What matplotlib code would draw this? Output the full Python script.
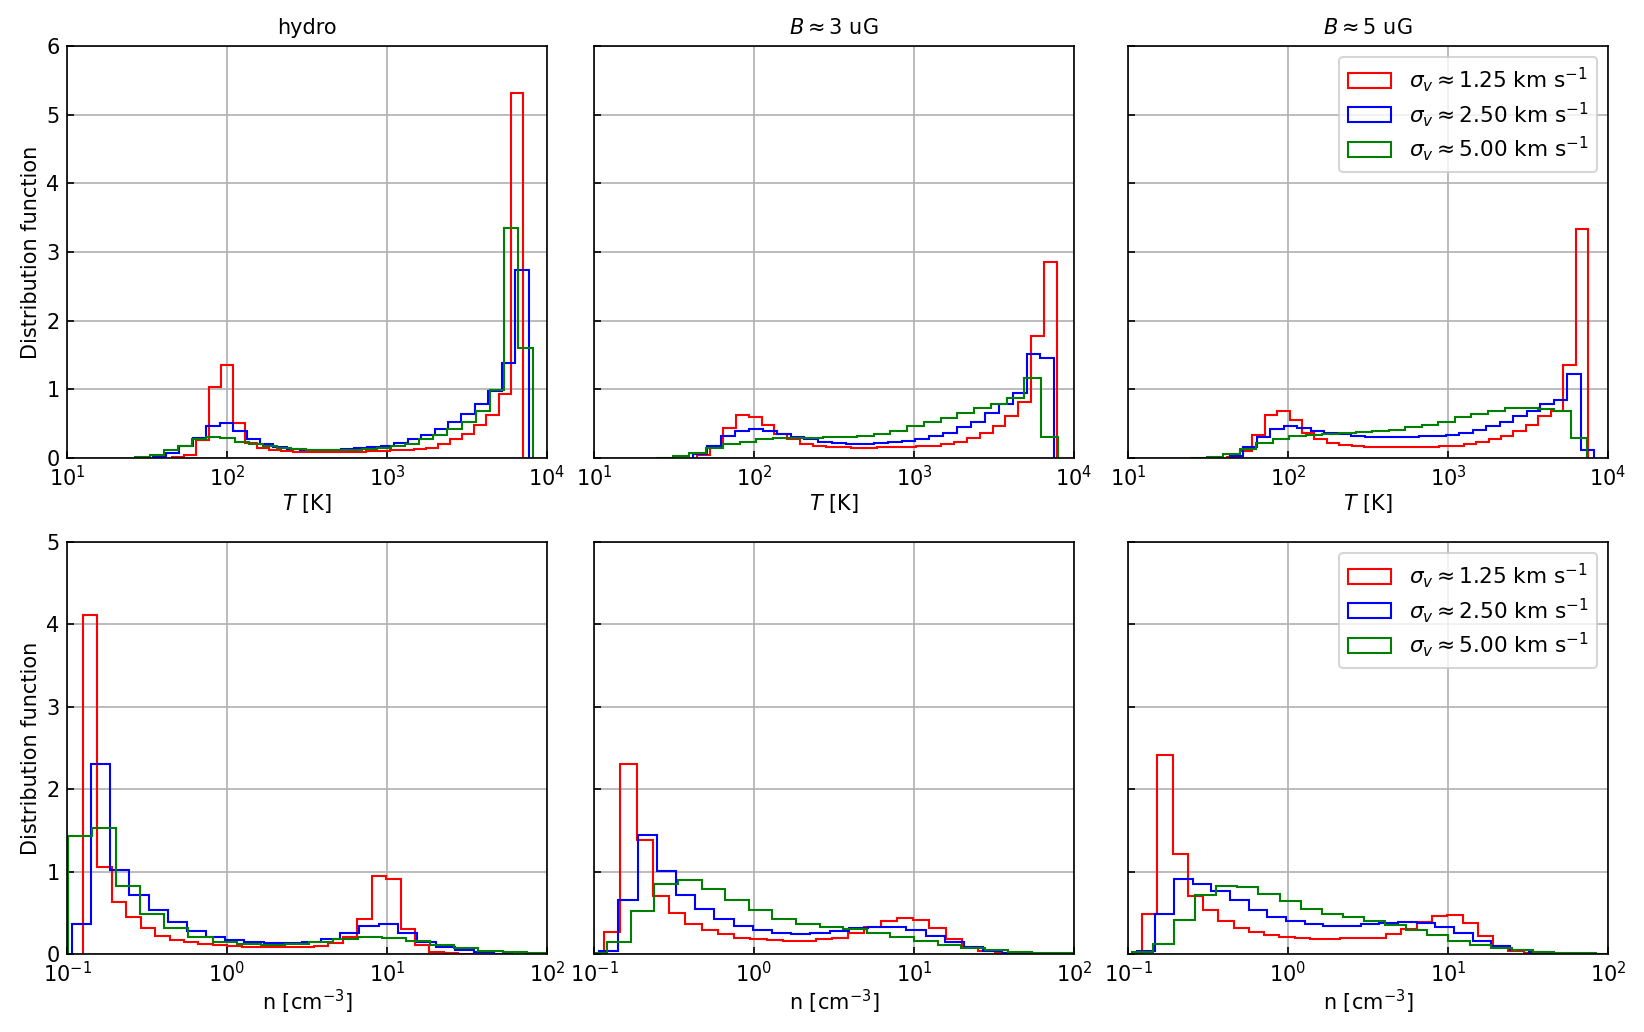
import numpy as np
import matplotlib
matplotlib.use('Agg')
import matplotlib.pyplot as plt

# Histogram heights; each series has its own log10 bin range
# temperature, hydro
T_HYDRO_RED_RANGE = (1.658, 3.848)
T_HYDRO_RED = [0.01, 0.05, 0.26, 1.03, 1.36, 0.51, 0.22, 0.15, 0.11, 0.095,
               0.09, 0.085, 0.085, 0.085, 0.09, 0.09, 0.1, 0.1, 0.11, 0.12,
               0.13, 0.15, 0.2, 0.27, 0.35, 0.48, 0.63, 0.93, 5.31]
T_HYDRO_BLUE_RANGE = (1.535, 3.885)
T_HYDRO_BLUE = [0.02, 0.08, 0.17, 0.29, 0.46, 0.51, 0.39, 0.28, 0.2, 0.155,
                0.13, 0.12, 0.12, 0.12, 0.125, 0.14, 0.16, 0.18, 0.22, 0.27,
                0.33, 0.42, 0.52, 0.64, 0.78, 0.97, 1.39, 2.74]
T_HYDRO_GREEN_RANGE = (1.427, 3.910)
T_HYDRO_GREEN = [0.015, 0.05, 0.11, 0.18, 0.27, 0.3, 0.29, 0.24, 0.21, 0.17,
                 0.14, 0.13, 0.12, 0.115, 0.115, 0.12, 0.125, 0.14, 0.17, 0.21,
                 0.27, 0.33, 0.42, 0.53, 0.69, 0.99, 3.35, 1.6]

# temperature, B ~ 3 uG
T_B3_RED_RANGE = (1.646, 3.892)
T_B3_RED = [0.05, 0.18, 0.44, 0.62, 0.6, 0.48, 0.35, 0.28, 0.21, 0.18,
            0.16, 0.155, 0.15, 0.15, 0.155, 0.16, 0.165, 0.17, 0.18, 0.2,
            0.24, 0.29, 0.37, 0.47, 0.61, 0.81, 1.78, 2.85]
T_B3_BLUE_RANGE = (1.621, 3.877)
T_B3_BLUE = [0.06, 0.18, 0.32, 0.4, 0.42, 0.39, 0.35, 0.3, 0.27, 0.24,
             0.22, 0.21, 0.21, 0.22, 0.23, 0.25, 0.28, 0.32, 0.37, 0.45,
             0.53, 0.65, 0.78, 0.94, 1.52, 1.45]
T_B3_GREEN_RANGE = (1.3875, 3.898)
T_B3_GREEN = [0.005, 0.035, 0.08, 0.15, 0.2, 0.24, 0.27, 0.29, 0.29, 0.29,
              0.3, 0.31, 0.32, 0.35, 0.4, 0.46, 0.52, 0.58, 0.66, 0.73,
              0.78, 0.87, 1.16, 0.31]

# temperature, B ~ 5 uG
T_B5_RED_RANGE = (1.621, 3.875)
T_B5_RED = [0.02, 0.1, 0.33, 0.63, 0.69, 0.55, 0.37, 0.28, 0.22, 0.19,
            0.17, 0.16, 0.155, 0.155, 0.155, 0.16, 0.165, 0.17, 0.18, 0.2,
            0.23, 0.27, 0.32, 0.4, 0.48, 0.61, 0.69, 1.35, 3.33]
T_B5_BLUE_RANGE = (1.6375, 3.915)
T_B5_BLUE = [0.035, 0.16, 0.31, 0.42, 0.47, 0.44, 0.4, 0.36, 0.35, 0.315,
             0.3, 0.3, 0.3, 0.305, 0.315, 0.32, 0.34, 0.37, 0.41, 0.46,
             0.52, 0.61, 0.69, 0.79, 0.84, 1.22, 0.12]
T_B5_GREEN_RANGE = (1.3875, 3.871)
T_B5_GREEN = [0.003, 0.02, 0.06, 0.13, 0.22, 0.28, 0.32, 0.34, 0.35, 0.36,
              0.38, 0.39, 0.41, 0.45, 0.48, 0.53, 0.59, 0.64, 0.69, 0.73,
              0.73, 0.71, 0.68, 0.29]

# density, hydro
N_HYDRO_RED_RANGE = (-0.9, 1.536)
N_HYDRO_RED = [4.12, 1.05, 0.63, 0.45, 0.31, 0.22, 0.17, 0.14, 0.12, 0.105,
               0.095, 0.09, 0.085, 0.085, 0.085, 0.09, 0.1, 0.13, 0.21, 0.42,
               0.95, 0.91, 0.3, 0.11, 0.03, 0.01, 0.004]
N_HYDRO_BLUE_RANGE = (-0.969, 1.786)
N_HYDRO_BLUE = [0.37, 2.3, 1.02, 0.72, 0.53, 0.39, 0.28, 0.21, 0.17, 0.14,
                0.13, 0.13, 0.14, 0.18, 0.25, 0.34, 0.37, 0.26, 0.15, 0.09,
                0.05, 0.02, 0.005]
N_HYDRO_GREEN_RANGE = (-0.996, 2.024)
N_HYDRO_GREEN = [1.43, 1.53, 0.83, 0.48, 0.32, 0.21, 0.15, 0.12, 0.11, 0.12,
                 0.14, 0.18, 0.21, 0.2, 0.16, 0.11, 0.077, 0.04, 0.02, 0.008]

# density, B ~ 3 uG
N_B3_RED_RANGE = (-0.9375, 1.707)
N_B3_RED = [0.27, 2.3, 1.38, 0.7, 0.5, 0.37, 0.29, 0.24, 0.2, 0.18,
            0.17, 0.16, 0.16, 0.18, 0.2, 0.26, 0.33, 0.4, 0.44, 0.41,
            0.31, 0.18, 0.09, 0.036, 0.012, 0.004]
N_B3_BLUE_RANGE = (-0.967, 1.793)
N_B3_BLUE = [0.04, 0.66, 1.44, 1.01, 0.71, 0.55, 0.43, 0.34, 0.29, 0.26,
             0.24, 0.25, 0.28, 0.31, 0.33, 0.33, 0.29, 0.22, 0.15, 0.09,
             0.04, 0.016, 0.005]
N_B3_GREEN_RANGE = (-1.065, 2.033)
N_B3_GREEN = [0.015, 0.14, 0.52, 0.85, 0.9, 0.79, 0.65, 0.53, 0.43, 0.37,
              0.33, 0.3, 0.26, 0.21, 0.16, 0.11, 0.077, 0.05, 0.028, 0.016,
              0.008]

# density, B ~ 5 uG
N_B5_RED_RANGE = (-0.9125, 1.663)
N_B5_RED = [0.48, 2.42, 1.21, 0.7, 0.53, 0.4, 0.32, 0.27, 0.23, 0.21,
            0.19, 0.18, 0.18, 0.19, 0.19, 0.2, 0.24, 0.3, 0.39, 0.46,
            0.47, 0.38, 0.22, 0.1, 0.04, 0.016, 0.005]
N_B5_BLUE_RANGE = (-0.946, 1.738)
N_B5_BLUE = [0.036, 0.49, 0.91, 0.85, 0.76, 0.66, 0.54, 0.45, 0.4, 0.36,
             0.34, 0.34, 0.36, 0.38, 0.39, 0.38, 0.33, 0.25, 0.16, 0.1,
             0.05, 0.02, 0.006]
N_B5_GREEN_RANGE = (-0.977, 2.059)
N_B5_GREEN = [0.03, 0.12, 0.41, 0.72, 0.83, 0.81, 0.73, 0.64, 0.55, 0.49,
              0.45, 0.4, 0.35, 0.29, 0.23, 0.16, 0.11, 0.077, 0.05, 0.028,
              0.016, 0.008, 0.004]

titles = ['hydro', r'$B\approx 3$ uG', r'$B\approx 5$ uG']
labels = [r'$\sigma_v \approx 1.25$ km s$^{-1}$',
          r'$\sigma_v \approx 2.50$ km s$^{-1}$',
          r'$\sigma_v \approx 5.00$ km s$^{-1}$']
colors = ['red', 'blue', 'green']

T_panels = [
    [(T_HYDRO_RED_RANGE, T_HYDRO_RED), (T_HYDRO_BLUE_RANGE, T_HYDRO_BLUE), (T_HYDRO_GREEN_RANGE, T_HYDRO_GREEN)],
    [(T_B3_RED_RANGE, T_B3_RED), (T_B3_BLUE_RANGE, T_B3_BLUE), (T_B3_GREEN_RANGE, T_B3_GREEN)],
    [(T_B5_RED_RANGE, T_B5_RED), (T_B5_BLUE_RANGE, T_B5_BLUE), (T_B5_GREEN_RANGE, T_B5_GREEN)],
]
N_panels = [
    [(N_HYDRO_RED_RANGE, N_HYDRO_RED), (N_HYDRO_BLUE_RANGE, N_HYDRO_BLUE), (N_HYDRO_GREEN_RANGE, N_HYDRO_GREEN)],
    [(N_B3_RED_RANGE, N_B3_RED), (N_B3_BLUE_RANGE, N_B3_BLUE), (N_B3_GREEN_RANGE, N_B3_GREEN)],
    [(N_B5_RED_RANGE, N_B5_RED), (N_B5_BLUE_RANGE, N_B5_BLUE), (N_B5_GREEN_RANGE, N_B5_GREEN)],
]


def draw_hist(ax, rng, heights, color, label):
    edges = np.logspace(rng[0], rng[1], len(heights) + 1)
    centers = np.sqrt(edges[:-1] * edges[1:])
    ax.hist(centers, bins=edges, weights=heights, histtype='step',
            color=color, label=label, lw=1.0)


fig = plt.figure(figsize=(10.96, 6.88), dpi=150)
plt.rcParams['font.size'] = 10

lefts = [67 / 1644, 594 / 1644, 1128 / 1644]
width = 480 / 1644
height = 412 / 1032
bottoms = [(1032 - 458) / 1032, (1032 - 954) / 1032]

for row, (panels, xlim, ylim, xlabel) in enumerate([
        (T_panels, (1e1, 1e4), (0, 6), r'$T$ [K]'),
        (N_panels, (1e-1, 1e2), (0, 5), r'n [cm$^{-3}$]')]):
    first = None
    for col in range(3):
        ax = fig.add_axes([lefts[col], bottoms[row], width, height],
                          sharey=first)
        if first is None:
            first = ax
        for (rng, h), c, lab in zip(panels[col], colors, labels):
            draw_hist(ax, rng, h, c, lab)
        ax.set_xscale('log')
        ax.set_xlim(*xlim)
        ax.set_ylim(*ylim)
        ax.grid(True)
        ax.set_axisbelow(True)
        ax.tick_params(direction='in', which='both', labelsize=10)
        ax.minorticks_off()
        ax.set_xlabel(xlabel, fontsize=10, labelpad=0.5)
        if row == 0:
            ax.set_title(titles[col], fontsize=10)
        if col == 0:
            ax.set_ylabel('Distribution function', fontsize=10, labelpad=2.5)
        else:
            ax.tick_params(labelleft=False)
        if col == 2:
            ax.legend(loc='upper right', fontsize=10.4, labelspacing=0.26,
                      handlelength=2.0)

fig.savefig('out.png', dpi=150)
